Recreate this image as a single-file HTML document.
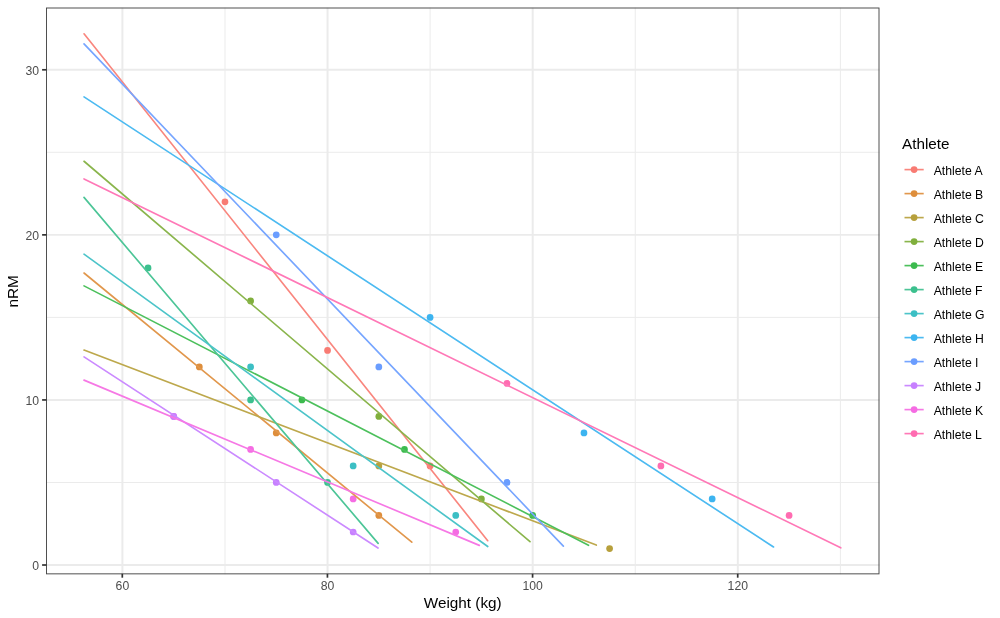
<!DOCTYPE html><html><head><meta charset="utf-8"><style>html,body{margin:0;padding:0;background:#fff;}svg{display:block;will-change:transform;}text{font-family:"Liberation Sans",sans-serif;}</style></head><body>
<svg width="1000" height="618" viewBox="0 0 1000 618">
<rect x="0" y="0" width="1000" height="618" fill="#fff"/>
<g stroke="#EBEBEB" stroke-width="0.99"><line x1="224.97" y1="7.64" x2="224.97" y2="574.2"/><line x1="430.11" y1="7.64" x2="430.11" y2="574.2"/><line x1="635.25" y1="7.64" x2="635.25" y2="574.2"/><line x1="840.39" y1="7.64" x2="840.39" y2="574.2"/><line x1="46.0" y1="482.48" x2="879.5" y2="482.48"/><line x1="46.0" y1="317.41" x2="879.5" y2="317.41"/><line x1="46.0" y1="152.34" x2="879.5" y2="152.34"/></g>
<g stroke="#EBEBEB" stroke-width="1.98"><line x1="122.40" y1="7.64" x2="122.40" y2="574.2"/><line x1="327.54" y1="7.64" x2="327.54" y2="574.2"/><line x1="532.68" y1="7.64" x2="532.68" y2="574.2"/><line x1="737.82" y1="7.64" x2="737.82" y2="574.2"/><line x1="46.0" y1="565.01" x2="879.5" y2="565.01"/><line x1="46.0" y1="399.94" x2="879.5" y2="399.94"/><line x1="46.0" y1="234.87" x2="879.5" y2="234.87"/><line x1="46.0" y1="69.80" x2="879.5" y2="69.80"/></g>
<g><circle cx="224.97" cy="201.86" r="3.37" fill="#F87B73"/><circle cx="327.54" cy="350.42" r="3.37" fill="#F87B73"/><circle cx="430.11" cy="465.97" r="3.37" fill="#F87B73"/><circle cx="199.33" cy="366.93" r="3.37" fill="#DE8E3C"/><circle cx="276.25" cy="432.96" r="3.37" fill="#DE8E3C"/><circle cx="378.83" cy="515.49" r="3.37" fill="#DE8E3C"/><circle cx="378.83" cy="465.97" r="3.37" fill="#B7A03C"/><circle cx="609.61" cy="548.51" r="3.37" fill="#B7A03C"/><circle cx="250.61" cy="300.90" r="3.37" fill="#80AF3C"/><circle cx="378.83" cy="416.45" r="3.37" fill="#80AF3C"/><circle cx="481.39" cy="498.98" r="3.37" fill="#80AF3C"/><circle cx="301.90" cy="399.94" r="3.37" fill="#3CBA4E"/><circle cx="404.47" cy="449.46" r="3.37" fill="#3CBA4E"/><circle cx="532.68" cy="515.49" r="3.37" fill="#3CBA4E"/><circle cx="148.04" cy="267.89" r="3.37" fill="#3CC08E"/><circle cx="250.61" cy="399.94" r="3.37" fill="#3CC08E"/><circle cx="327.54" cy="482.48" r="3.37" fill="#3CC08E"/><circle cx="250.61" cy="366.93" r="3.37" fill="#3CBFC4"/><circle cx="353.18" cy="465.97" r="3.37" fill="#3CBFC4"/><circle cx="455.75" cy="515.49" r="3.37" fill="#3CBFC4"/><circle cx="430.11" cy="317.41" r="3.37" fill="#3CB4F0"/><circle cx="583.97" cy="432.96" r="3.37" fill="#3CB4F0"/><circle cx="712.18" cy="498.98" r="3.37" fill="#3CB4F0"/><circle cx="276.25" cy="234.87" r="3.37" fill="#6A9DFF"/><circle cx="378.83" cy="366.93" r="3.37" fill="#6A9DFF"/><circle cx="507.04" cy="482.48" r="3.37" fill="#6A9DFF"/><circle cx="276.25" cy="482.48" r="3.37" fill="#C780FF"/><circle cx="353.18" cy="532.00" r="3.37" fill="#C780FF"/><circle cx="173.69" cy="416.45" r="3.37" fill="#F56CE3"/><circle cx="250.61" cy="449.46" r="3.37" fill="#F56CE3"/><circle cx="353.18" cy="498.98" r="3.37" fill="#F56CE3"/><circle cx="455.75" cy="532.00" r="3.37" fill="#F56CE3"/><circle cx="507.04" cy="383.44" r="3.37" fill="#FF6CB1"/><circle cx="660.89" cy="465.97" r="3.37" fill="#FF6CB1"/><circle cx="789.10" cy="515.49" r="3.37" fill="#FF6CB1"/><circle cx="173.69" cy="416.45" r="3.37" fill="#C780FF"/></g>
<g stroke-width="1.65" stroke-linecap="round"><line x1="84.02" y1="33.82" x2="487.72" y2="540.75" stroke="#F9867E"/><line x1="84.02" y1="273.00" x2="411.79" y2="542.23" stroke="#E1974C"/><line x1="84.02" y1="350.09" x2="596.30" y2="545.10" stroke="#BDA84C"/><line x1="84.02" y1="161.25" x2="530.00" y2="541.74" stroke="#8AB54C"/><line x1="84.02" y1="285.88" x2="588.50" y2="545.29" stroke="#4CC05C"/><line x1="84.02" y1="197.40" x2="378.13" y2="543.39" stroke="#4CC597"/><line x1="84.02" y1="254.19" x2="487.72" y2="546.52" stroke="#4CC4C9"/><line x1="84.02" y1="96.87" x2="773.52" y2="546.97" stroke="#4CBAF1"/><line x1="84.02" y1="43.89" x2="563.36" y2="546.19" stroke="#76A5FF"/><line x1="84.02" y1="356.86" x2="378.02" y2="548.01" stroke="#CB8AFF"/><line x1="84.02" y1="380.13" x2="479.31" y2="545.37" stroke="#F678E5"/><line x1="84.02" y1="178.91" x2="840.74" y2="547.84" stroke="#FF78B7"/></g>
<rect x="46.5" y="8.0" width="832.500" height="565.850" fill="none" stroke="#474747" stroke-width="0.95"/>
<g stroke="#333333" stroke-width="1.7"><line x1="122.30" y1="573.85" x2="122.30" y2="577.7"/><line x1="327.44" y1="573.85" x2="327.44" y2="577.7"/><line x1="532.58" y1="573.85" x2="532.58" y2="577.7"/><line x1="737.72" y1="573.85" x2="737.72" y2="577.7"/><line x1="42.1" y1="565.01" x2="46.5" y2="565.01"/><line x1="42.1" y1="399.94" x2="46.5" y2="399.94"/><line x1="42.1" y1="234.87" x2="46.5" y2="234.87"/><line x1="42.1" y1="69.80" x2="46.5" y2="69.80"/></g>
<g fill="#4D4D4D" font-size="12.22"><text x="122.40" y="589.7" text-anchor="middle">60</text><text x="327.54" y="589.7" text-anchor="middle">80</text><text x="532.68" y="589.7" text-anchor="middle">100</text><text x="737.82" y="589.7" text-anchor="middle">120</text><text x="39.0" y="569.91" text-anchor="end">0</text><text x="39.0" y="404.84" text-anchor="end">10</text><text x="39.0" y="239.77" text-anchor="end">20</text><text x="39.0" y="74.70" text-anchor="end">30</text></g>
<text x="462.75" y="608" text-anchor="middle" font-size="15.28" fill="#000">Weight (kg)</text>
<text transform="translate(18.2,291.3) rotate(-90)" text-anchor="middle" font-size="15.28" fill="#000">nRM</text>
<text x="902" y="148.8" font-size="15.28" fill="#000">Athlete</text>
<g><line x1="904.5" y1="169.6" x2="923.7" y2="169.6" stroke="#F9867E" stroke-width="1.65"/><circle cx="914.1" cy="169.6" r="3.37" fill="#F87B73"/><text x="933.7" y="174.50" font-size="12.22" fill="#000">Athlete A</text><line x1="904.5" y1="193.6" x2="923.7" y2="193.6" stroke="#E1974C" stroke-width="1.65"/><circle cx="914.1" cy="193.6" r="3.37" fill="#DE8E3C"/><text x="933.7" y="198.50" font-size="12.22" fill="#000">Athlete B</text><line x1="904.5" y1="217.6" x2="923.7" y2="217.6" stroke="#BDA84C" stroke-width="1.65"/><circle cx="914.1" cy="217.6" r="3.37" fill="#B7A03C"/><text x="933.7" y="222.50" font-size="12.22" fill="#000">Athlete C</text><line x1="904.5" y1="241.6" x2="923.7" y2="241.6" stroke="#8AB54C" stroke-width="1.65"/><circle cx="914.1" cy="241.6" r="3.37" fill="#80AF3C"/><text x="933.7" y="246.50" font-size="12.22" fill="#000">Athlete D</text><line x1="904.5" y1="265.6" x2="923.7" y2="265.6" stroke="#4CC05C" stroke-width="1.65"/><circle cx="914.1" cy="265.6" r="3.37" fill="#3CBA4E"/><text x="933.7" y="270.50" font-size="12.22" fill="#000">Athlete E</text><line x1="904.5" y1="289.6" x2="923.7" y2="289.6" stroke="#4CC597" stroke-width="1.65"/><circle cx="914.1" cy="289.6" r="3.37" fill="#3CC08E"/><text x="933.7" y="294.50" font-size="12.22" fill="#000">Athlete F</text><line x1="904.5" y1="313.6" x2="923.7" y2="313.6" stroke="#4CC4C9" stroke-width="1.65"/><circle cx="914.1" cy="313.6" r="3.37" fill="#3CBFC4"/><text x="933.7" y="318.50" font-size="12.22" fill="#000">Athlete G</text><line x1="904.5" y1="337.6" x2="923.7" y2="337.6" stroke="#4CBAF1" stroke-width="1.65"/><circle cx="914.1" cy="337.6" r="3.37" fill="#3CB4F0"/><text x="933.7" y="342.50" font-size="12.22" fill="#000">Athlete H</text><line x1="904.5" y1="361.6" x2="923.7" y2="361.6" stroke="#76A5FF" stroke-width="1.65"/><circle cx="914.1" cy="361.6" r="3.37" fill="#6A9DFF"/><text x="933.7" y="366.50" font-size="12.22" fill="#000">Athlete I</text><line x1="904.5" y1="385.6" x2="923.7" y2="385.6" stroke="#CB8AFF" stroke-width="1.65"/><circle cx="914.1" cy="385.6" r="3.37" fill="#C780FF"/><text x="933.7" y="390.50" font-size="12.22" fill="#000">Athlete J</text><line x1="904.5" y1="409.6" x2="923.7" y2="409.6" stroke="#F678E5" stroke-width="1.65"/><circle cx="914.1" cy="409.6" r="3.37" fill="#F56CE3"/><text x="933.7" y="414.50" font-size="12.22" fill="#000">Athlete K</text><line x1="904.5" y1="433.6" x2="923.7" y2="433.6" stroke="#FF78B7" stroke-width="1.65"/><circle cx="914.1" cy="433.6" r="3.37" fill="#FF6CB1"/><text x="933.7" y="438.50" font-size="12.22" fill="#000">Athlete L</text></g>
</svg></body></html>
